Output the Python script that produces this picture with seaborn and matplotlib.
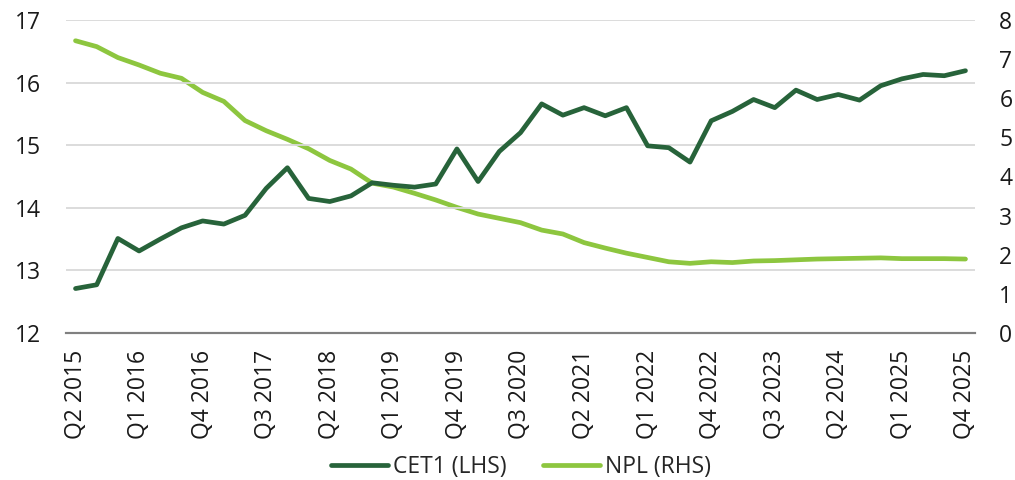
import matplotlib
matplotlib.use("Agg")
import matplotlib.pyplot as plt
import seaborn as sns
import pandas as pd

years = list(range(2015, 2026))
quarters = [f"Q{q} {y}" for y in years for q in range(1, 5)][1:]

cet1 = [12.71, 12.77, 13.51, 13.31, 13.50, 13.68, 13.79, 13.74, 13.88, 14.31,
        14.64, 14.15, 14.10, 14.19, 14.40, 14.36, 14.33, 14.38, 14.94, 14.42,
        14.90, 15.20, 15.66, 15.48, 15.60, 15.47, 15.60, 14.99, 14.96, 14.73,
        15.39, 15.54, 15.73, 15.60, 15.88, 15.73, 15.81, 15.72, 15.95, 16.06,
        16.13, 16.11, 16.19]

npl = [7.47, 7.32, 7.04, 6.85, 6.64, 6.51, 6.15, 5.92, 5.43, 5.17,
       4.95, 4.71, 4.41, 4.19, 3.83, 3.73, 3.57, 3.40, 3.21, 3.04,
       2.93, 2.82, 2.63, 2.53, 2.31, 2.17, 2.04, 1.93, 1.82, 1.78,
       1.82, 1.80, 1.84, 1.85, 1.87, 1.89, 1.90, 1.91, 1.92, 1.90,
       1.90, 1.90, 1.89]

df = pd.DataFrame({"idx": range(len(quarters)), "quarter": quarters,
                   "cet1": cet1, "npl": npl})

sns.set_style("white")
plt.rcParams["font.family"] = ["Open Sans", "DejaVu Sans"]

dark = "#27633a"
light = "#8dc63f"
fs = 16.5

fig, ax = plt.subplots(figsize=(10.15, 4.8), dpi=100)
fig.subplots_adjust(left=0.065, right=0.9606, top=0.9583, bottom=0.3063)
ax2 = ax.twinx()

sns.lineplot(data=df, x="idx", y="cet1", ax=ax, color=dark, linewidth=3.4,
             label="CET1 (LHS)", legend=False)
sns.lineplot(data=df, x="idx", y="npl", ax=ax2, color=light, linewidth=3.4,
             label="NPL (RHS)", legend=False)

ax.set_ylim(12, 17)
ax2.set_ylim(0, 8)
ax.set_xlim(-0.45, len(quarters) - 1 + 0.45)
ax.set_yticks(range(12, 18))
ax2.set_yticks(range(0, 9))
ax.yaxis.grid(True, color="#d9d9d9", linewidth=1.3)
ax.set_axisbelow(True)
ax.set_zorder(ax2.get_zorder() + 1)
ax.patch.set_visible(False)

ticks = list(range(0, len(quarters), 3))
ax.set_xticks(ticks)
ax.set_xticklabels([quarters[i] for i in ticks], rotation=90)

for a in (ax, ax2):
    for s in ("top", "left", "right"):
        a.spines[s].set_visible(False)
    a.spines["bottom"].set_color("#808080")
    a.spines["bottom"].set_linewidth(1.5)
    a.tick_params(length=0, labelsize=fs, colors="#1a1a1a")
    a.set_xlabel("")
    a.set_ylabel("")
ax.tick_params(axis="y", pad=18)
ax2.tick_params(axis="y", pad=17.5)
ax.tick_params(axis="x", pad=12)

h1, l1 = ax.get_legend_handles_labels()
h2, l2 = ax2.get_legend_handles_labels()
fig.legend(h1 + h2, l1 + l2, loc="center", bbox_to_anchor=(0.513, 0.027),
           ncol=2, frameon=False, fontsize=fs, handlelength=2.5,
           columnspacing=1.6, handletextpad=0.2)

fig.savefig("out.png", dpi=100)
